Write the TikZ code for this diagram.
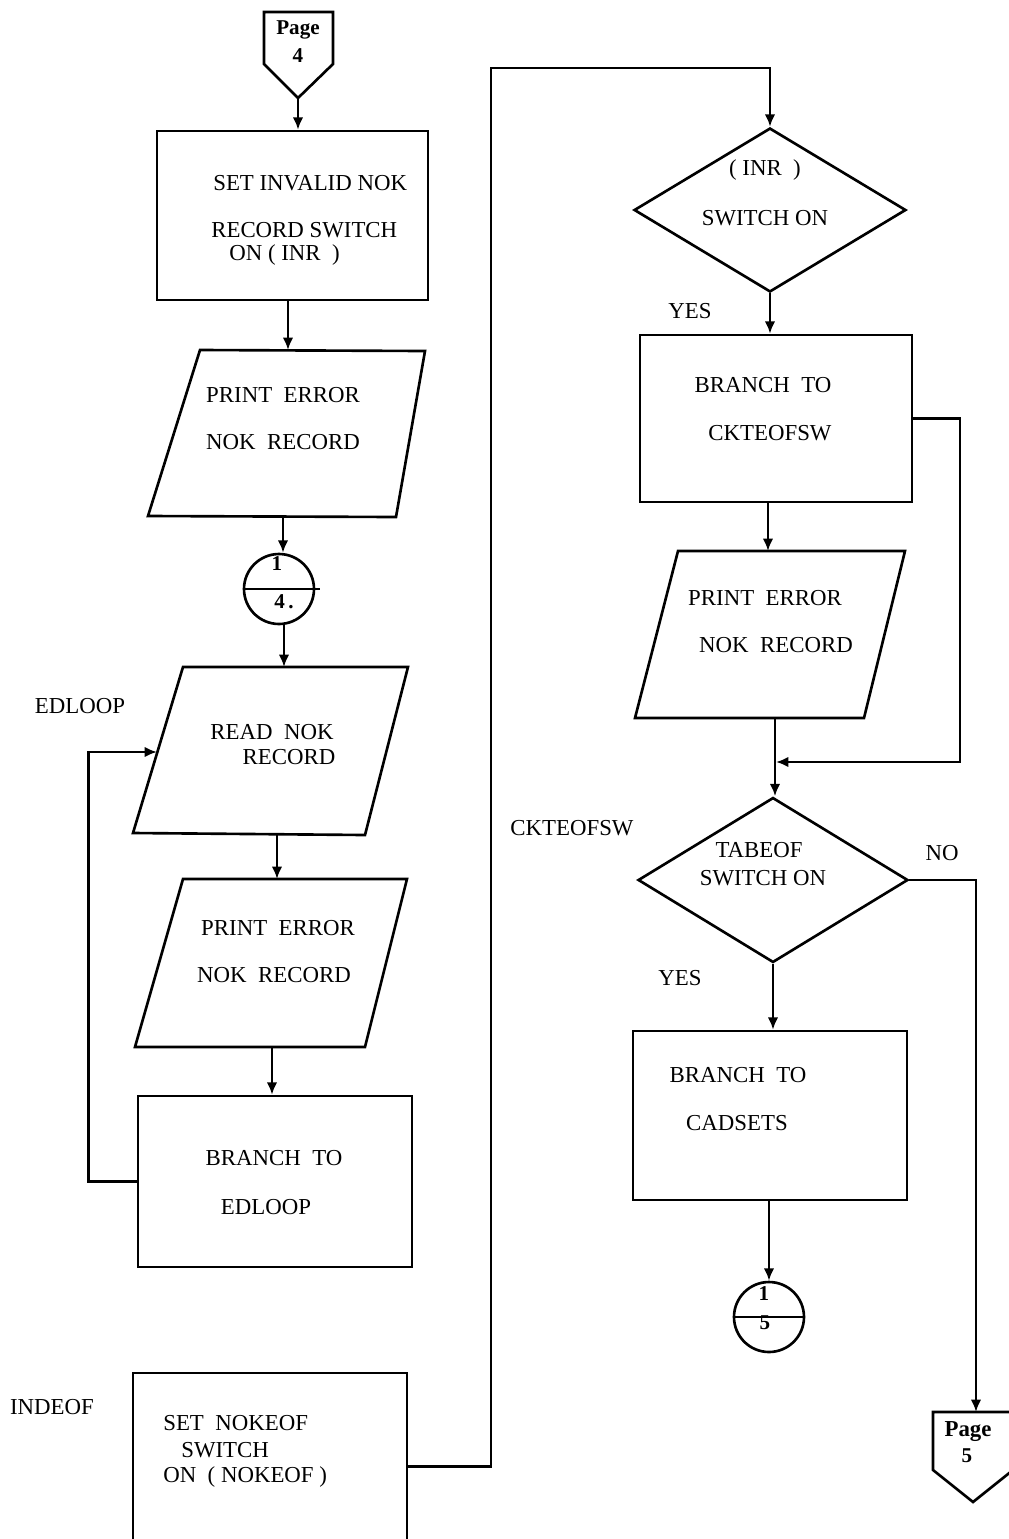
\documentclass[tikz,border=0pt]{standalone}
\usepackage{fontspec}
\setmainfont{Liberation Serif}
\usetikzlibrary{arrows,arrows.meta}
\usetikzlibrary{positioning}
\usetikzlibrary{shapes}

\begin{document}
\begin{tikzpicture}[x=0.02cm, y=-0.02cm, >={Latex[length=7pt,width=6pt]}, line width=1.5pt,
proc/.style={draw, rectangle, inner sep=0pt},
test/.style={draw, diamond, inner sep=0pt},
conn/.style={draw, circle, inner sep=0pt, minimum size=1.4cm},
txt/.style={inner sep=0pt, font=\fontsize{13}{15}\selectfont},
num/.style={inner sep=0pt, font=\bfseries\fontsize{12}{14}\selectfont}]

\useasboundingbox (0,0) rectangle (1008,1539);

\draw (264,12) -- (333,12) -- (333,64) -- (298,98) -- (264,64) -- cycle;
\coordinate (p4tip) at (298,98);
\node [num] (p4a) at (298,30) {Page};
\node [num] (p4b) at (298,56) {4};

\node [proc, minimum width=5.42cm, minimum height=3.38cm] (setinr) at (292.5,215.5) {};
\node [txt, anchor=west] (setinr1) at (212,183) {SET INVALID NOK};
\node [txt, anchor=west] (setinr2) at (210,230) {RECORD SWITCH};
\node [txt, anchor=west] (setinr3) at (228,255) {ON ( INR~ )};

\draw (200,350) -- (425,351) -- (396,517) -- (148,516) -- cycle;
\coordinate (pr1n) at (288,350);
\coordinate (pr1s) at (283,516);
\node [txt] (pr1a) at (283,395) {PRINT~ ERROR};
\node [txt] (pr1b) at (283,442) {NOK~ RECORD};

\node [conn] (con1) at (279,589) {};
\draw (con1.west) -- ([xshift=0.1cm]con1.east);
\node [num] (con1a) at (277,564) {1};
\node [num] (con1b) at (284,602) {4\,.};

\draw (183,667) -- (408,667) -- (365,835) -- (133,833) -- cycle;
\coordinate (pr2n) at (284,667);
\coordinate (pr2s) at (277,834);
\coordinate (loopin) at (157,752);
\node [txt] (pr2a) at (272,732) {READ~ NOK};
\node [txt] (pr2b) at (289,757) {RECORD};

\draw (183,879) -- (407,879) -- (365,1047) -- (135,1047) -- cycle;
\coordinate (pr3n) at (277,879);
\coordinate (pr3s) at (272,1047);
\node [txt] (pr3a) at (278,928) {PRINT~ ERROR};
\node [txt] (pr3b) at (274,975) {NOK~ RECORD};

\node [proc, minimum width=5.48cm, minimum height=3.42cm] (brloop) at (275,1181.5) {};
\node [txt] (brloop1) at (274,1158) {BRANCH~ TO};
\node [txt] (brloop2) at (266,1207) {EDLOOP};

\node [proc, minimum width=5.48cm, minimum height=3.74cm] (indeof) at (270,1466.5) {};
\node [txt, anchor=west] (indeof1) at (162,1423) {SET~ NOKEOF};
\node [txt, anchor=west] (indeof2) at (180,1450) {SWITCH};
\node [txt, anchor=west] (indeof3) at (162,1477) {ON~ ( NOKEOF )};

\node [test, minimum width=5.44cm, minimum height=3.28cm] (inrsw) at (770,210) {};
\node [txt] (inrsw1) at (765,170) {( INR~ )};
\node [txt] (inrsw2) at (765,218) {SWITCH ON};

\node [proc, minimum width=5.44cm, minimum height=3.34cm] (brck) at (776,418.5) {};
\node [txt] (brck1) at (763,385) {BRANCH~ TO};
\node [txt] (brck2) at (770,433) {CKTEOFSW};

\draw (678,551) -- (905,551) -- (864,718) -- (635,718) -- cycle;
\coordinate (prRn) at (768,551);
\coordinate (prRs) at (775,718);
\node [txt] (prR1) at (765,598) {PRINT~ ERROR};
\node [txt] (prR2) at (776,645) {NOK~ RECORD};

\node [test, minimum width=5.40cm, minimum height=3.30cm] (tabsw) at (773,880) {};
\node [txt] (tabsw1) at (759,850) {TABEOF};
\node [txt] (tabsw2) at (763,878) {SWITCH ON};

\node [proc, minimum width=5.48cm, minimum height=3.38cm] (brcad) at (770,1115.5) {};
\node [txt] (brcad1) at (738,1075) {BRANCH~ TO};
\node [txt] (brcad2) at (737,1123) {CADSETS};

\node [conn] (con2) at (769,1317) {};
\draw (con2.west) -- (con2.east);
\node [num] (con2a) at (764,1294) {1};
\node [num] (con2b) at (765,1323) {5};

\draw (933,1412) -- (1013,1412) -- (1013,1470) -- (973,1502) -- (933,1470) -- cycle;
\coordinate (p5top) at (976,1412);
\node [num, font=\bfseries\fontsize{13}{15}\selectfont] (p5a) at (968,1432) {Page};
\node [num] (p5b) at (967,1456) {5};

\node [txt] (lbedloop) at (80,706) {EDLOOP};
\node [txt] (lbindeof) at (52,1407) {INDEOF};
\node [txt] (lbckteof) at (572,828) {CKTEOFSW};
\node [txt] (yes1) at (690,311) {YES};
\node [txt] (yes2) at (680,978) {YES};
\node [txt] (no1) at (942,853) {NO};

\draw[->] (p4tip) -- (p4tip |- setinr.north);
\draw[->] (setinr.south -| pr1n) -- (pr1n);
\draw[->] (pr1s) -- (pr1s |- con1.north);
\draw[->] (con1.south -| pr2n) -- (pr2n);
\draw[->] (pr2s) -- (pr3n);
\draw[->] (pr3s) -- (pr3s |- brloop.north);
\draw[->] (brloop.west) -- ++(-48,0) |- (loopin);

\coordinate (topbend) at (491,68);
\draw[->] (indeof.east) -| (topbend) -| (inrsw.north);
\draw[->] (inrsw.south) -- (inrsw.south |- brck.north);
\draw[->] (brck.south -| prRn) -- (prRn);
\coordinate (rjoin) at (960,762);
\coordinate (merge) at (776,762);
\draw[->] (brck.east) -| (rjoin) -- (merge);
\draw[->] (prRs) -- (prRs |- tabsw.north);
\draw[->] (tabsw.east) -| (p5top);
\draw[->] (tabsw.south) -- (tabsw.south |- brcad.north);
\draw[->] (brcad.south -| con2) -- (con2.north);

\end{tikzpicture}
\end{document}
